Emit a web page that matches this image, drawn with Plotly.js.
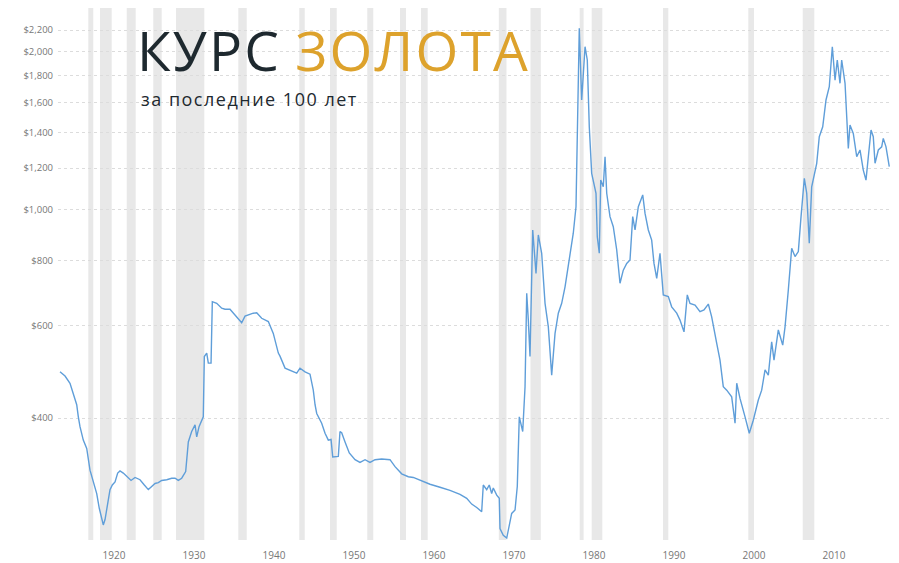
<!DOCTYPE html>
<html><head><meta charset="utf-8">
<script src="https://cdn.plot.ly/plotly-3.0.1.min.js"></script>
<style>html,body{margin:0;padding:0;background:#fff}#chart{width:899px;height:563px}</style>
</head><body><div id="chart"></div>
<script>
const years=[1913.25,1913.88,1914.5,1914.91,1915.34,1915.54,1915.75,1916.16,1916.59,1917.0,1917.21,1917.41,1917.84,1918.16,1918.46,1918.66,1918.88,1919.21,1919.5,1919.79,
1920.13,1920.46,1920.75,1921.16,1921.59,1922.13,1922.63,1923.25,1923.79,1924.29,1924.71,1925.13,1925.54,1925.96,1926.59,1927.21,1927.63,1928.04,1928.46,1928.96,
1929.29,1929.71,1930.13,1930.34,1930.63,1930.96,1931.16,1931.29,1931.59,1931.79,1932.13,1932.29,1932.84,1933.46,1933.88,1934.5,1935.34,1935.96,1936.38,1937.41,
1937.84,1938.46,1939.29,1939.91,1940.54,1940.75,1941.38,1942.0,1942.84,1943.25,1943.88,1944.5,1944.91,1945.13,1945.34,1945.96,1946.38,1946.79,1947.13,1947.34,
1948.04,1948.25,1948.46,1948.88,1949.41,1950.13,1950.75,1951.38,1952.0,1952.63,1953.46,1954.5,1955.13,1955.96,1956.79,1957.41,1958.25,1959.5,1960.75,1962.0,
1963.25,1964.09,1964.71,1965.34,1965.96,1966.16,1966.59,1966.91,1967.21,1967.41,1967.84,1968.16,1968.25,1968.66,1969.09,1969.29,1969.71,1970.13,1970.41,1970.66,
1971.09,1971.38,1971.59,1971.79,1972.0,1972.34,1972.75,1973.04,1973.46,1973.88,1974.29,1974.71,1975.13,1975.54,1975.96,1976.38,1977.0,1977.41,1977.75,1977.91,
1978.16,1978.46,1978.88,1979.16,1979.41,1979.71,1979.91,1980.25,1980.41,1980.66,1980.84,1981.16,1981.38,1981.59,1982.0,1982.41,1982.84,1983.25,1983.66,1984.09,
1984.5,1984.84,1985.13,1985.54,1986.09,1986.38,1986.79,1987.21,1987.5,1987.84,1988.25,1988.66,1989.29,1989.71,1990.34,1990.75,1991.25,1991.66,1992.0,1992.63,
1993.25,1993.75,1994.29,1994.71,1995.34,1995.75,1996.16,1996.59,1997.21,1997.63,1997.84,1998.25,1998.88,1999.41,1999.91,2000.54,2000.96,2001.38,2001.79,2002.21,
2002.5,2003.04,2003.59,2003.88,2004.29,2004.5,2004.71,2005.13,2005.54,2005.88,2006.29,2006.59,2006.91,2007.21,2007.5,2007.84,2008.16,2008.59,2009.0,2009.41,
2009.79,2010.13,2010.41,2010.75,2010.96,2011.38,2011.59,2011.79,2012.0,2012.41,2012.84,2013.25,2013.66,2014.0,2014.29,2014.63,2014.91,2015.13,2015.54,2015.96,
2016.16,2016.5,2016.91];
const prices=[490,481,466,446,424,402,385,363,350,318,309,302,287,269,259,250,256,275,292,298,
302,314,317,314,309,304,308,305,298,292,296,300,301,304,305,307,307,304,307,316,
360,377,388,368,385,394,402,524,532,509,509,667,662,648,645,645,624,608,626,634,
635,620,611,580,532,525,498,494,487,498,490,485,452,424,408,391,374,363,364,337,
338,377,375,360,343,333,329,333,329,333,334,333,323,313,309,308,304,299,295,291,
286,281,274,270,265,298,292,298,287,294,285,281,246,239,236,245,263,267,296,402,
377,459,692,615,524,914,755,894,825,662,597,483,580,634,662,712,825,901,1012,1317,
2217,1618,2045,1929,1438,1172,1138,1074,887,825,1138,1105,1261,1074,969,927,837,723,766,789,
801,969,914,1012,1066,983,914,874,789,739,825,687,682,652,634,615,584,687,662,657,
638,643,660,624,555,516,459,452,439,391,466,436,402,374,396,433,452,494,483,559,
516,589,551,597,702,772,843,813,831,969,1147,1074,862,1105,1155,1225,1377,1438,1618,1715,
2045,1766,1929,1741,1929,1741,1503,1308,1449,1397,1261,1299,1189,1138,1261,1418,1377,1225,1299,1317,
1367,1317,1207];
const recessionStart=[1916.79,1918.25,1921.59,1924.91,1927.75,1935.54,1943.16,1947.0,1951.66,1955.75,1958.38,1968.1,1972.06,1978.21,1979.71,1988.63,1999.29,2006.09];
const recessionEnd=[1917.41,1919.71,1922.71,1925.96,1931.29,1936.59,1943.84,1947.84,1952.41,1956.5,1959.21,1969.06,1973.35,1978.7,1981.04,1989.29,2000.0,2007.54];
const yTickValues=[400,600,800,1000,1200,1400,1600,1800,2000,2200];
const yTickLabels=['$400','$600','$800','$1,000','$1,200','$1,400','$1,600','$1,800','$2,000','$2,200'];
const xTickValues=[1920,1930,1940,1950,1960,1970,1980,1990,2000,2010];
const xTickLabels=['1920','1930','1940','1950','1960','1970','1980','1990','2000','2010'];
const titleDark='КУРС';
const titleGold='ЗОЛОТА';
const subtitle='за последние 100 лет';

const shapes=recessionStart.map((s,i)=>({type:'rect',xref:'x',yref:'paper',x0:s,x1:recessionEnd[i],y0:0,y1:1,
  fillcolor:'#e8e8e8',line:{width:0},layer:'below'}));

const trace={x:years,y:prices,type:'scatter',mode:'lines',line:{color:'#5f9ed9',width:1.4},hoverinfo:'skip'};

const layout={
  width:899,height:563,
  margin:{l:58,r:9,t:8,b:23},
  paper_bgcolor:'#ffffff',plot_bgcolor:'#ffffff',
  showlegend:false,
  font:{family:'Open Sans, sans-serif',color:'#666'},
  xaxis:{range:[1913,2017],tickvals:xTickValues,ticktext:xTickLabels,showgrid:false,zeroline:false,showline:false,ticks:'',
    tickfont:{size:10,color:'#777',family:'Open Sans, sans-serif'},ticklabelstandoff:8},
  yaxis:{type:'log',range:[Math.log10(234),Math.log10(2424)],tickvals:yTickValues,ticktext:yTickLabels,
    showgrid:true,gridcolor:'#dcdcdc',griddash:'3px,3px',gridwidth:1,zeroline:false,showline:false,ticks:'',
    tickfont:{size:9.5,color:'#777',family:'Open Sans, sans-serif'},ticklabelstandoff:4},
  shapes:shapes,
  annotations:[
    {xref:'paper',yref:'paper',x:0.093,y:0.996,xanchor:'left',yanchor:'top',showarrow:false,
     text:'<span style="color:#1e292f;letter-spacing:2.2px">'+titleDark+'</span> <span style="color:#dda22c;letter-spacing:2.2px">'+titleGold+'</span>',
     font:{family:'Open Sans, sans-serif',size:55,color:'#1e292f'}},
    {xref:'paper',yref:'paper',x:0.097,y:0.856,xanchor:'left',yanchor:'top',showarrow:false,
     text:'<span style="letter-spacing:1.5px">'+subtitle+'</span>',font:{family:'Open Sans, sans-serif',size:18,color:'#1e292f'}}
  ]
};
Plotly.newPlot('chart',[trace],layout,{staticPlot:true,displayModeBar:false});
</script></body></html>
